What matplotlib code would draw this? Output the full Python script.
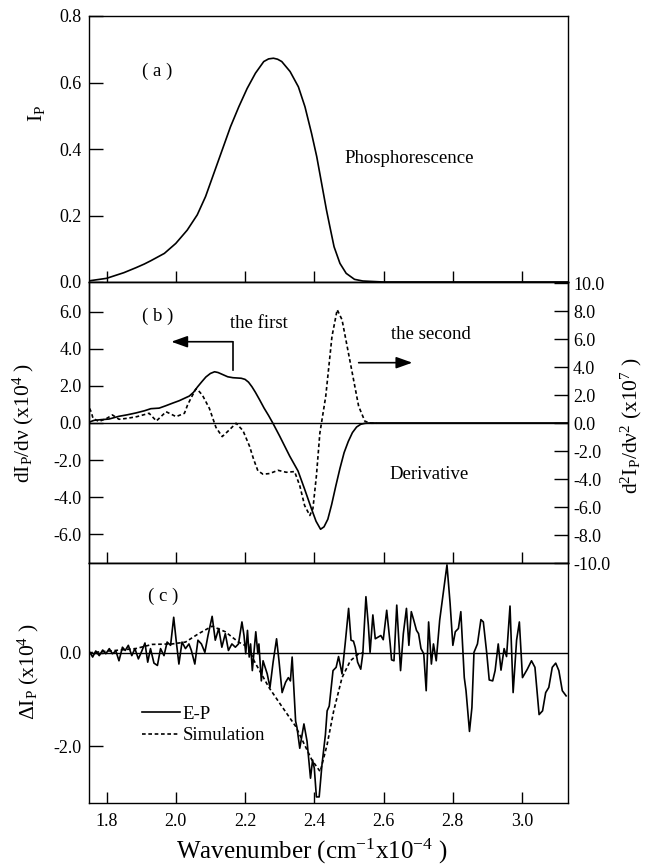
import matplotlib
matplotlib.use("Agg")
import matplotlib.pyplot as plt
import numpy as np

plt.rcParams['font.family'] = ['Liberation Serif', 'DejaVu Serif']
plt.rcParams['mathtext.fontset'] = 'custom'
plt.rcParams['mathtext.rm'] = 'Liberation Serif'
plt.rcParams['mathtext.default'] = 'regular'
plt.rcParams['axes.unicode_minus'] = False

# (a) phosphorescence spectrum
wn_a = [1.7465, 1.80, 1.85, 1.885, 1.909, 1.928, 1.967, 2.000, 2.033, 2.062, 2.086, 2.110,
        2.134, 2.158, 2.182, 2.206, 2.230, 2.254, 2.268, 2.282, 2.294, 2.306, 2.330, 2.354,
        2.373, 2.392, 2.407, 2.421, 2.435, 2.445, 2.457, 2.474, 2.492, 2.516, 2.540, 2.60,
        3.131]
ip_a = [0.003, 0.011, 0.028, 0.043, 0.054, 0.064, 0.086, 0.116, 0.156, 0.202, 0.257, 0.327,
        0.397, 0.467, 0.527, 0.582, 0.628, 0.663, 0.671, 0.673, 0.670, 0.663, 0.633, 0.587,
        0.527, 0.447, 0.377, 0.297, 0.217, 0.166, 0.106, 0.056, 0.026, 0.008, 0.003, 0.0,
        0.0]

# (b) first derivative (left axis, x10^4)
wn_d1 = [1.7465, 1.755, 1.764, 1.785, 1.807, 1.836, 1.860, 1.885, 1.910, 1.928, 1.952, 1.970,
         1.991, 2.010, 2.039, 2.051, 2.063, 2.075, 2.087, 2.100, 2.112, 2.122, 2.133, 2.150,
         2.165, 2.189, 2.200, 2.210, 2.220, 2.230, 2.242, 2.255, 2.268, 2.280, 2.300, 2.329,
         2.353, 2.372, 2.392, 2.405, 2.418, 2.428, 2.439, 2.450, 2.462, 2.474, 2.486, 2.498,
         2.510, 2.522, 2.534, 2.546, 2.56, 3.131]
d1 = [0.0, 0.08, 0.14, 0.18, 0.21, 0.36, 0.44, 0.54, 0.66, 0.77, 0.80, 0.92,
      1.07, 1.20, 1.45, 1.65, 1.95, 2.22, 2.48, 2.67, 2.76, 2.72, 2.63, 2.49,
      2.44, 2.41, 2.35, 2.20, 1.95, 1.65, 1.25, 0.80, 0.40, 0.0, -0.71, -1.79,
      -2.59, -3.57, -4.64, -5.30, -5.73, -5.60, -5.19, -4.40, -3.40, -2.45, -1.60, -1.00,
      -0.52, -0.22, -0.07, -0.02, 0.0, 0.0]

# (b) second derivative (right axis, x10^7)
wn_d2 = [1.751, 1.756, 1.761, 1.778, 1.801, 1.817, 1.836, 1.860, 1.888, 1.923, 1.944, 1.972,
         2.001, 2.025, 2.034, 2.044, 2.058, 2.063, 2.077, 2.097, 2.116, 2.134, 2.155, 2.174,
         2.194, 2.213, 2.225, 2.237, 2.252, 2.271, 2.295, 2.319, 2.343, 2.358, 2.372, 2.387,
         2.396, 2.406, 2.416, 2.433, 2.451, 2.466, 2.480, 2.504, 2.528, 2.546, 2.564, 2.58]
d2 = [1.06, 0.80, 0.35, 0.12, 0.35, 0.59, 0.28, 0.35, 0.47, 0.71, 0.16, 0.82,
      0.47, 0.71, 1.30, 1.80, 2.45, 2.40, 2.00, 1.06, -0.30, -0.96, -0.47, 0.0,
      -0.53, -1.65, -2.60, -3.40, -3.65, -3.60, -3.37, -3.51, -3.46, -4.47, -5.89, -6.60,
      -6.10, -3.77, -0.71, 1.93, 6.21, 8.12, 7.40, 4.31, 1.21, 0.14, 0.0, 0.0]

# (c) difference spectrum E-P (x10^4)
wn_c = [1.752, 1.760, 1.769, 1.779, 1.789, 1.798, 1.808, 1.817, 1.827, 1.836, 1.846, 1.854,
        1.863, 1.873, 1.882, 1.892, 1.902, 1.911, 1.919, 1.927, 1.937, 1.947, 1.956, 1.966,
        1.975, 1.985, 1.994, 2.001, 2.009, 2.018, 2.028, 2.038, 2.045, 2.055, 2.064, 2.074,
        2.084, 2.093, 2.105, 2.114, 2.124, 2.133, 2.143, 2.152, 2.162, 2.172, 2.181, 2.191,
        2.197, 2.202, 2.207, 2.212, 2.216, 2.221, 2.231, 2.237, 2.240, 2.247, 2.252, 2.264,
        2.272, 2.281, 2.291, 2.298, 2.307, 2.317, 2.325, 2.331, 2.336, 2.346, 2.350, 2.358,
        2.370, 2.379, 2.389, 2.395, 2.400, 2.406, 2.414, 2.422, 2.432, 2.437, 2.443, 2.454,
        2.463, 2.470, 2.480, 2.489, 2.499, 2.506, 2.513, 2.518, 2.525, 2.534, 2.540, 2.549,
        2.556, 2.561, 2.569, 2.576, 2.585, 2.592, 2.599, 2.609, 2.619, 2.623, 2.630, 2.638,
        2.649, 2.657, 2.666, 2.673, 2.680, 2.687, 2.695, 2.701, 2.708, 2.716, 2.723, 2.730,
        2.738, 2.744, 2.752, 2.762, 2.771, 2.783, 2.792, 2.800, 2.807, 2.816, 2.823, 2.829,
        2.833, 2.838, 2.848, 2.855, 2.861, 2.871, 2.881, 2.888, 2.898, 2.905, 2.915, 2.922,
        2.931, 2.939, 2.948, 2.955, 2.965, 2.974, 2.984, 2.992, 3.001, 3.015, 3.027, 3.037,
        3.049, 3.059, 3.068, 3.077, 3.087, 3.097, 3.106, 3.116, 3.127]
ep_c = [0.01, -0.09, 0.04, -0.06, 0.06, -0.02, 0.09, -0.02, 0.04, -0.17, 0.12, 0.05,
        0.16, -0.06, 0.09, -0.13, 0.04, 0.21, -0.20, 0.09, -0.22, -0.27, 0.09, -0.06,
        0.23, 0.16, 0.76, 0.27, -0.24, 0.23, 0.09, 0.19, 0.05, -0.24, 0.27, 0.19,
        0.01, 0.37, 0.78, 0.27, 0.52, 0.12, 0.41, 0.05, 0.19, 0.12, 0.19, 0.66,
        0.37, -0.02, 0.48, -0.09, 0.19, -0.38, 0.45, -0.02, 0.19, -0.60, -0.17, -0.45,
        -0.74, -0.20, 0.30, -0.17, -0.85, -0.63, -0.53, -0.60, -0.09, -1.46, -1.60, -2.04,
        -1.52, -1.89, -2.68, -2.29, -2.47, -3.08, -3.08, -2.40, -1.75, -1.24, -1.14, -0.38,
        -0.31, -0.08, -0.45, 0.19, 0.95, 0.27, 0.25, 0.12, -0.20, -0.35, -0.02, 1.20,
        0.59, 0.01, 0.81, 0.30, 0.34, 0.37, 0.28, 0.91, 0.19, -0.15, -0.17, 1.02,
        -0.38, 0.41, 0.95, 0.16, 0.88, 0.70, 0.48, 0.41, 0.09, -0.02, -0.81, 0.66,
        -0.24, 0.19, -0.17, 0.70, 1.20, 1.88, 1.06, 0.16, 0.45, 0.52, 0.88, 0.01,
        -0.53, -0.81, -1.68, -1.17, 0.01, 0.19, 0.71, 0.66, -0.02, -0.58, -0.60, -0.38,
        0.19, -0.37, 0.09, -0.08, 1.00, -0.85, 0.27, 0.66, -0.53, -0.35, -0.17, -0.31,
        -1.32, -1.24, -0.85, -0.74, -0.31, -0.22, -0.38, -0.81, -0.92]

# (c) simulation
wn_sim = [1.75, 1.884, 1.932, 1.99, 2.028, 2.066, 2.105, 2.143, 2.181, 2.210, 2.226, 2.269,
          2.302, 2.346, 2.374, 2.393, 2.417, 2.437, 2.456, 2.480, 2.504, 2.528, 2.542]
sim = [0.0, 0.09, 0.18, 0.19, 0.23, 0.41, 0.57, 0.45, 0.23, 0.12, -0.17, -0.74,
       -1.10, -1.57, -2.00, -2.29, -2.54, -1.96, -1.24, -0.53, -0.17, -0.02, 0.0]

xticks = [1.8, 2.0, 2.2, 2.4, 2.6, 2.8, 3.0]
XLIM = (1.748, 3.131)

TICK_FS = 13
TEXT_FS = 13.5
LABEL_FS = 15.5
LW = 1.2
DASH = (0, (2.2, 1.6))

fig = plt.figure(figsize=(6.48, 8.67), dpi=100)
left, width = 88.5 / 648, 479 / 648
ax_a = fig.add_axes([left, 1 - 282 / 867, width, 266 / 867])
ax_b = fig.add_axes([left, 1 - 563 / 867, width, 281 / 867])
ax_c = fig.add_axes([left, 1 - 803 / 867, width, 240 / 867])
ax_b2 = ax_b.twinx()

for ax in (ax_a, ax_b, ax_c, ax_b2):
    ax.set_xlim(*XLIM)
    ax.set_xticks(xticks)
    ax.tick_params(axis='both', direction='in', labelsize=TICK_FS, width=1.0)
    ax.tick_params(axis='x', length=8, top=False, pad=7)
    ax.tick_params(axis='y', length=10, pad=5)
    for s in ax.spines.values():
        s.set_linewidth(1.0)

fmt = matplotlib.ticker.FormatStrFormatter('%.1f')

# panel (a)
ax_a.plot(wn_a, ip_a, color='black', lw=LW)
ax_a.set_ylim(0, 0.8)
ax_a.set_yticks([0.0, 0.2, 0.4, 0.6, 0.8])
ax_a.yaxis.set_major_formatter(fmt)
ax_a.tick_params(axis='x', labelbottom=False)
ax_a.set_ylabel('I$_{P}$', fontsize=LABEL_FS)
ax_a.yaxis.set_label_coords(-0.087, 0.635)
ax_a.text(1.947, 0.633, '( a )', fontsize=TEXT_FS, ha='center', va='center')
ax_a.text(2.675, 0.372, 'Phosphorescence', fontsize=TEXT_FS, ha='center', va='center')

# panel (b)
ax_b.axhline(0, color='black', lw=1.0)
ax_b.plot(wn_d1, d1, color='black', lw=LW)
ax_b2.plot(wn_d2, d2, color='black', lw=LW, linestyle=DASH)
ax_b.set_ylim(-7.55, 7.6)
ax_b.set_yticks([-6, -4, -2, 0, 2, 4, 6])
ax_b.yaxis.set_major_formatter(fmt)
ax_b2.set_ylim(-10, 10.1)
ax_b2.set_yticks([-10, -8, -6, -4, -2, 0, 2, 4, 6, 8, 10])
ax_b2.yaxis.set_major_formatter(fmt)
ax_b2.tick_params(axis='y', pad=4)
ax_b.tick_params(axis='x', labelbottom=False)
ax_b2.tick_params(axis='x', labelbottom=False, bottom=False)
ax_b.set_ylabel('dI$_{P}$/dν (x10$^{4}$ )', fontsize=LABEL_FS)
ax_b.yaxis.set_label_coords(-0.109, 0.5)
ax_b2.set_ylabel('d$^{2}$I$_{P}$/dν$^{2}$ (x10$^{7}$ )', fontsize=LABEL_FS, rotation=90)
ax_b2.yaxis.set_label_coords(1.108, 0.49)

ax_b.text(1.947, 5.73, '( b )', fontsize=TEXT_FS, ha='center', va='center')
ax_b.text(2.239, 5.35, 'the first', fontsize=TEXT_FS, ha='center', va='center')
ax_b.text(2.736, 4.78, 'the second', fontsize=TEXT_FS, ha='center', va='center')
ax_b.text(2.730, -2.77, 'Derivative', fontsize=TEXT_FS, ha='center', va='center')

arrow_kw = dict(arrowstyle='-|>,head_length=0.7,head_width=0.25', color='black', lw=1.2,
                mutation_scale=14, shrinkA=0, shrinkB=0)
ax_b.plot([2.164, 2.164], [2.88, 4.38], color='black', lw=1.2)
ax_b.annotate('', xy=(1.987, 4.38), xytext=(2.164, 4.38), arrowprops=arrow_kw)
ax_b.annotate('', xy=(2.683, 3.25), xytext=(2.528, 3.25), arrowprops=arrow_kw)

# panel (c)
ax_c.axhline(0, color='black', lw=1.0)
ax_c.plot(wn_c, ep_c, color='black', lw=LW, label='E-P')
ax_c.plot(wn_sim, sim, color='black', lw=LW, linestyle=DASH, label='Simulation')
ax_c.set_ylim(-3.21, 1.92)
ax_c.set_yticks([-2.0, 0.0])
ax_c.yaxis.set_major_formatter(fmt)
ax_c.set_ylabel('ΔI$_{P}$ (x10$^{4}$ )', fontsize=LABEL_FS)
ax_c.yaxis.set_label_coords(-0.099, 0.547)
ax_c.set_xlabel('Wavenumber (cm$^{-1}$x10$^{-4}$ )', fontsize=18)
ax_c.xaxis.set_label_coords(0.466, -0.14)
ax_c.text(1.963, 1.20, '( c )', fontsize=TEXT_FS, ha='center', va='center')
ax_c.legend(loc='center left', bbox_to_anchor=(0.112, 0.325), frameon=False,
            fontsize=TEXT_FS, handlelength=2.0, handletextpad=0.15, labelspacing=0.25,
            borderpad=0, borderaxespad=0)

fig.savefig('out.png', dpi=100)
